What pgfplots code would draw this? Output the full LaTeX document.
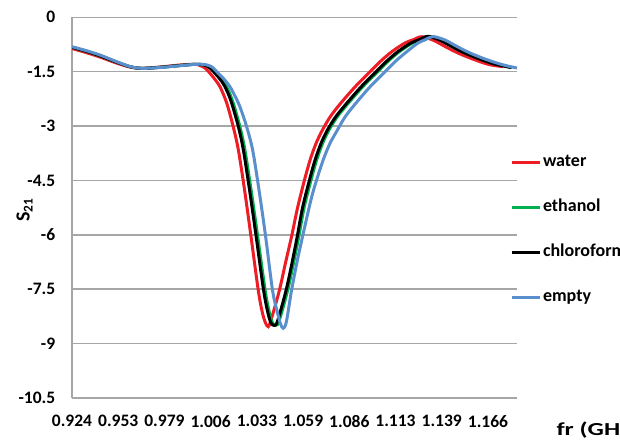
\documentclass[border=0pt]{standalone}
\usepackage{fontspec}
\setmainfont{Carlito}
\usepackage{pgfplots}
\pgfplotsset{compat=1.18}
\definecolor{water}{HTML}{EE1C25}
\definecolor{ethanol}{HTML}{00B050}
\definecolor{emptyc}{HTML}{5A8FCD}
\definecolor{gridgray}{HTML}{A6A6A6}
\newcommand{\lblfont}{\bfseries\fontsize{10.5}{12}\selectfont}

\begin{document}
\begin{tikzpicture}
\useasboundingbox (0,0) rectangle (372pt,264pt);
\begin{axis}[
    at={(43.2pt,25.2pt)}, anchor=south west,
    scale only axis, width=267pt, height=228.4pt,
    xmin=0.924, xmax=1.1829, ymin=-10.5, ymax=0,
    axis lines*=left,
    x axis line style={draw=none},
    y axis line style={draw=gridgray, line width=0.9pt, -},
    major tick length=0pt,
    ymajorgrids, grid style={draw=gridgray, line width=0.9pt},
    ytick={-10.5,-9,-7.5,-6,-4.5,-3,-1.5,0},
    xtick={0.924,0.950889,0.977778,1.004667,1.031556,1.058444,1.085333,1.112222,1.139111,1.166},
    xticklabels={0.924,0.953,0.979,1.006,1.033,1.059,1.086,1.113,1.139,1.166},
    /pgf/number format/assume math mode=true,
    yticklabel style={font=\lblfont, inner sep=0pt, xshift=-9.9pt},
    xticklabel style={font=\lblfont, inner sep=0pt, yshift=-10.2pt},
    ylabel={\bfseries\fontsize{12}{14}\selectfont S\textsubscript{21}},
    ylabel style={at={(axis description cs:-0.1067,0.494)}, anchor=center},
    xlabel={\bfseries\fontsize{11}{13}\selectfont fr (GHz)},
    xlabel style={at={(axis description cs:1.088,-0.084)}, anchor=west, inner sep=0pt, xscale=1.4},
    every axis plot/.append style={line width=1.8pt, smooth},
    legend style={at={(axis description cs:0.9843,0.635)}, anchor=north west,
        draw=none, fill=none, inner sep=0pt, outer sep=0pt,
        row sep=19pt, column sep=1.2pt, font=\bfseries\fontsize{10.8}{12}\selectfont,
        nodes={inner sep=0pt, text height=6pt, text depth=2pt}},
    legend cell align=left,
    legend image code/.code={\draw[#1] (0pt,0pt) -- (16.8pt,0pt);},
]
% water
\addplot[water] coordinates {
(0.9240,-0.860) (0.9321,-0.971) (0.9403,-1.095) (0.9490,-1.247) (0.9577,-1.371)
(0.9647,-1.407) (0.9752,-1.371) (0.9868,-1.315) (0.9956,-1.296) (0.9985,-1.329)
(1.0014,-1.398) (1.0043,-1.544) (1.0072,-1.715) (1.0101,-1.914) (1.0140,-2.363)
(1.0178,-3.017) (1.0208,-3.660) (1.0244,-4.763) (1.0281,-6.031) (1.0324,-7.540)
(1.0348,-8.155) (1.0366,-8.431) (1.0382,-8.533) (1.0398,-8.348) (1.0446,-7.540)
(1.0482,-6.776) (1.0518,-6.031) (1.0552,-5.259) (1.0590,-4.534) (1.0625,-3.938)
(1.0660,-3.475) (1.0695,-3.127) (1.0741,-2.752) (1.0799,-2.394) (1.0887,-1.917)
(1.0974,-1.503) (1.1038,-1.200) (1.1102,-0.943) (1.1177,-0.708) (1.1224,-0.621)
(1.1275,-0.535) (1.1346,-0.640) (1.1416,-0.819) (1.1492,-0.998) (1.1579,-1.164)
(1.1666,-1.302) (1.1749,-1.362)
};
\addlegendentry{water}
% ethanol
\addplot[ethanol] coordinates {
(0.9240,-0.827) (0.9321,-0.935) (0.9403,-1.062) (0.9490,-1.219) (0.9577,-1.362)
(0.9647,-1.407) (0.9752,-1.379) (0.9868,-1.329) (0.9956,-1.296) (1.0008,-1.315)
(1.0052,-1.398) (1.0081,-1.544) (1.0110,-1.702) (1.0139,-1.914) (1.0174,-2.308)
(1.0217,-3.017) (1.0246,-3.660) (1.0282,-4.763) (1.0320,-6.031) (1.0364,-7.540)
(1.0389,-8.155) (1.0407,-8.431) (1.0427,-8.490) (1.0445,-8.376) (1.0494,-7.540)
(1.0529,-6.776) (1.0560,-6.031) (1.0590,-5.259) (1.0628,-4.534) (1.0663,-3.938)
(1.0698,-3.475) (1.0733,-3.127) (1.0782,-2.752) (1.0843,-2.394) (1.0931,-1.917)
(1.1018,-1.503) (1.1082,-1.200) (1.1146,-0.943) (1.1221,-0.708) (1.1268,-0.621)
(1.1320,-0.524) (1.1390,-0.632) (1.1460,-0.810) (1.1536,-0.990) (1.1623,-1.156)
(1.1710,-1.293) (1.1800,-1.384)
};
\addlegendentry{ethanol}
% chloroform
\addplot[black] coordinates {
(0.9240,-0.827) (0.9321,-0.935) (0.9403,-1.062) (0.9490,-1.219) (0.9577,-1.362)
(0.9647,-1.407) (0.9752,-1.379) (0.9868,-1.329) (0.9956,-1.296) (1.0008,-1.315)
(1.0043,-1.398) (1.0072,-1.544) (1.0101,-1.702) (1.0130,-1.914) (1.0165,-2.308)
(1.0208,-3.017) (1.0237,-3.660) (1.0273,-4.763) (1.0311,-6.031) (1.0355,-7.540)
(1.0380,-8.155) (1.0398,-8.431) (1.0418,-8.500) (1.0436,-8.376) (1.0485,-7.540)
(1.0520,-6.776) (1.0551,-6.031) (1.0581,-5.259) (1.0619,-4.534) (1.0654,-3.938)
(1.0689,-3.475) (1.0724,-3.127) (1.0773,-2.752) (1.0834,-2.394) (1.0922,-1.917)
(1.1009,-1.503) (1.1073,-1.200) (1.1137,-0.943) (1.1212,-0.708) (1.1259,-0.621)
(1.1311,-0.524) (1.1381,-0.632) (1.1451,-0.810) (1.1527,-0.990) (1.1614,-1.156)
(1.1701,-1.293) (1.1794,-1.384)
};
\addlegendentry{chloroform}
% empty
\addplot[emptyc] coordinates {
(0.9240,-0.811) (0.9321,-0.916) (0.9403,-1.040) (0.9490,-1.205) (0.9577,-1.357)
(0.9647,-1.407) (0.9752,-1.384) (0.9868,-1.335) (0.9956,-1.296) (1.0014,-1.302)
(1.0055,-1.371) (1.0091,-1.544) (1.0124,-1.702) (1.0159,-1.914) (1.0188,-2.170)
(1.0217,-2.466) (1.0256,-3.017) (1.0291,-3.660) (1.0328,-4.763) (1.0366,-6.031)
(1.0407,-7.540) (1.0436,-8.155) (1.0453,-8.458) (1.0469,-8.577) (1.0487,-8.403)
(1.0517,-7.540) (1.0548,-6.776) (1.0582,-6.031) (1.0630,-5.039) (1.0660,-4.534)
(1.0701,-3.938) (1.0741,-3.475) (1.0782,-3.127) (1.0828,-2.752) (1.0887,-2.394)
(1.0974,-1.917) (1.1061,-1.503) (1.1125,-1.200) (1.1189,-0.943) (1.1253,-0.708)
(1.1294,-0.621) (1.1340,-0.530) (1.1410,-0.626) (1.1480,-0.805) (1.1556,-0.985)
(1.1643,-1.150) (1.1730,-1.288) (1.1788,-1.357) (1.1829,-1.398)
};
\addlegendentry{empty}
\end{axis}
\end{tikzpicture}
\end{document}
